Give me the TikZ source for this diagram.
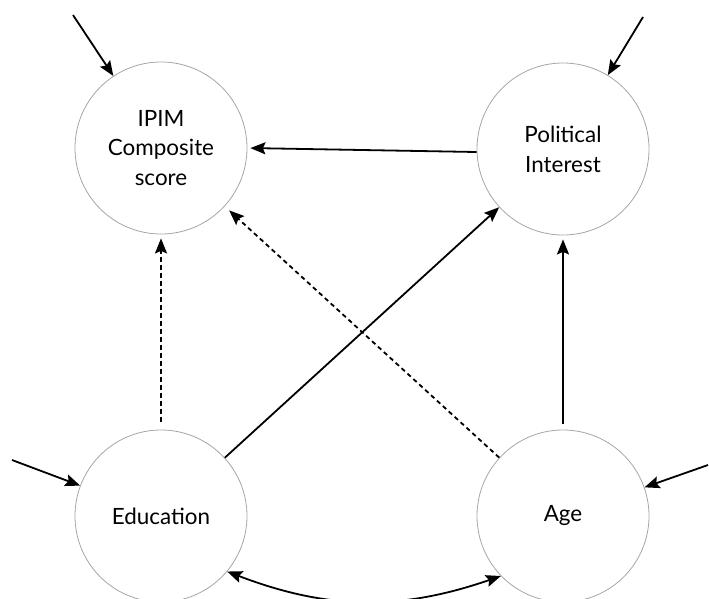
\documentclass[tikz,border=0pt]{standalone}
\usepackage{fontspec}
\setmainfont{Lato}
\usetikzlibrary{arrows.meta}
\begin{document}
\begin{tikzpicture}[x=1bp,y=-1bp,
  var/.style={circle,draw=black!35,line width=0.8bp,minimum size=172bp,inner sep=0pt,
    align=center,font=\fontsize{22.5}{30}\selectfont,text=black},
  tip/.style={Stealth[length=15bp,width=12bp,inset=2.5bp]},
  path/.style={line width=1.8bp,-{Stealth[length=15bp,width=12bp,inset=2.5bp]}},
  dpath/.style={path,dash pattern=on 4.5bp off 3.5bp},
  both/.style={line width=1.8bp,{Stealth[length=15bp,width=12bp,inset=2.5bp]}-{Stealth[length=15bp,width=12bp,inset=2.5bp]}}]
\useasboundingbox (0,0) rectangle (709,599);
\node[var] (ipim) at (161,148) {IPIM\\Composite\\score};
\node[var] (pint) at (563,149) {Political\\Interest};
\node[var] (edu)  at (161,516) {Education};
\node[var] (age)  at (563,516) {Age};
% error terms
\coordinate (eipim) at (73,15);
\coordinate (epint) at (643,17);
\coordinate (eedu)  at (12,460);
\coordinate (eage)  at (708,465);
\draw[path] (eipim) -- (ipim);
\draw[path] (epint) -- (pint);
\draw[path] (eedu) -- (edu);
\draw[path] (eage) -- (age);
% structural paths
\draw[path,shorten >=3bp] (pint.182) -- (ipim.0);
\draw[path] (edu) -- (pint);
\draw[path,shorten >=4bp,shorten <=6bp] (age) -- (pint);
\draw[dpath,shorten >=4bp,shorten <=8bp] (edu) -- (ipim);
\draw[dpath,shorten >=6bp] (age) -- (ipim);
% covariance
\draw[both] (edu.-40) to[bend right=20] (age.-136);
\end{tikzpicture}
\end{document}
